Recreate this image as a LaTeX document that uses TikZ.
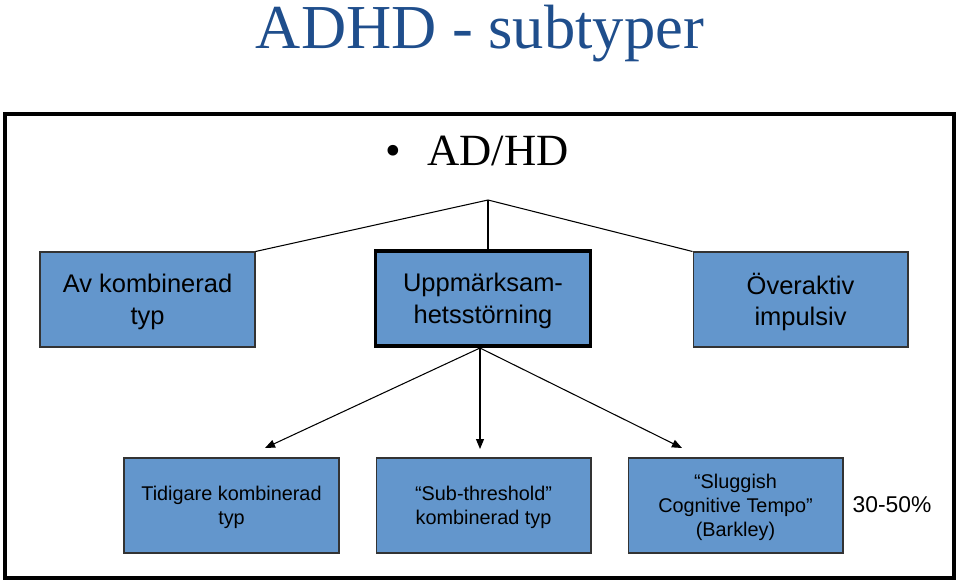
\documentclass[tikz,border=0pt]{standalone}
\usepackage{fontspec}
\setmainfont{Liberation Sans}
\newfontfamily\titlefont{Liberation Serif}
\usetikzlibrary{arrows.meta}
\definecolor{boxblue}{HTML}{6396CC}
\definecolor{titleblue}{HTML}{1F4E8C}

\begin{document}
\begin{tikzpicture}[
    x=0.02cm, y=-0.02cm,
    grp/.style = {draw=black!80, line width=0.6pt, fill=boxblue,
                  minimum width=4.3cm, minimum height=1.9cm,
                  align=center, inner sep=0pt, text depth=-2.8pt,
                  font=\fontsize{14.5}{18}\selectfont},
   main/.style = {grp, draw=black, line width=2.2pt},
    sub/.style = {grp, text depth=-3.4pt,
                  font=\fontsize{11.3}{13.6}\selectfont},
   link/.style = {line width=0.6pt},
    arr/.style = {link, -{Triangle[length=2mm,width=1.6mm]}}
                    ]
\useasboundingbox (0,0) rectangle (959,582);
% heading
\node (title) [anchor=base, text=titleblue,
               font=\titlefont\fontsize{35.6}{40}\selectfont] at (480,48) {ADHD - subtyper};
\draw[line width=2.3pt] (5,114) rectangle (954,578);
\node (dot) [anchor=base, inner sep=0pt, font=\titlefont\fontsize{25.4}{30}\selectfont] at (393,165) {•};
\node (adhd) [anchor=base west, inner sep=0pt, font=\titlefont\fontsize{25.4}{30}\selectfont] at (427,165) {AD/HD};
% upper row
\coordinate (split) at (488,200);
\node (b1) [grp]  at (147.5,299.5) {Av kombinerad\\ typ};
\node (b2) [main] at (483,298.5)   {Uppmärksam-\\ hetsstörning};
\node (b3) [grp]  at (800.5,299.5) {Överaktiv\\ impulsiv};
\draw[link] (split) -- (b1.north east);
\draw[link] (split) -- (split |- b2.north);
\draw[link] (split) -- (b3.north west);
% lower row
\node (b4) [sub] at (231.5,505.5) {Tidigare kombinerad\\ typ};
\node (b5) [sub] at (483.5,505.5) {“Sub-threshold”\\ kombinerad typ};
\node (b6) [sub] at (735.5,505.5) {“Sluggish\\ Cognitive Tempo”\\ (Barkley)};
\node (pct) [font=\fontsize{13}{15}\selectfont] at (892,505) {30-50\%};
\coordinate (from) at (480,348);
\coordinate (t4) at (265,448);
\coordinate (t5) at (480,449);
\coordinate (t6) at (682,448);
\draw[arr] (from) -- (t4);
\draw[arr] (from) -- (t5);
\draw[arr] (from) -- (t6);
\end{tikzpicture}
\end{document}
